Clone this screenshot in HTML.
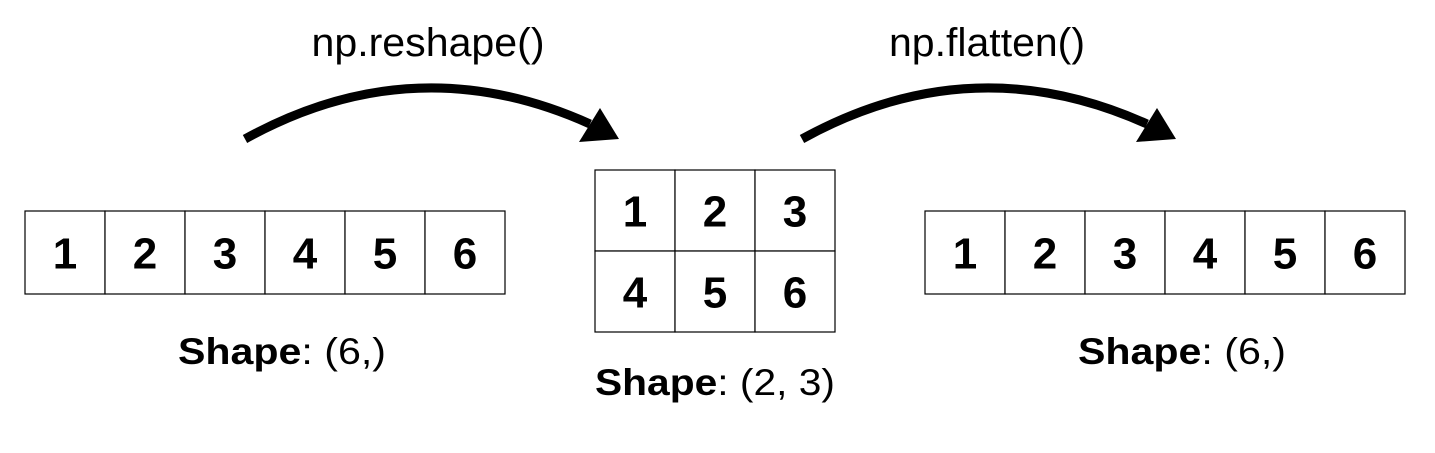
<!DOCTYPE html>
<html><head><meta charset="utf-8"><style>
body{margin:0;width:1435px;height:448px;background:#fff;overflow:hidden;font-family:"Liberation Sans",Arial,sans-serif}
svg text{font-family:"Liberation Sans",Arial,sans-serif}
</style></head><body>
<svg width="1435" height="448">
<g id="arrays"></g>
<text x="428" y="56" font-size="40" text-anchor="middle" textLength="233" lengthAdjust="spacingAndGlyphs">np.reshape()</text>
<text x="987" y="56" font-size="40" text-anchor="middle" textLength="196" lengthAdjust="spacingAndGlyphs">np.flatten()</text>
<g>
<path d="M245,139 Q415,45 590,124" fill="none" stroke="#000" stroke-width="9"/>
<polygon points="619,139 579,142 600,108" fill="#000"/>
</g>
<g>
<path d="M802,139 Q972,45 1147,124" fill="none" stroke="#000" stroke-width="9"/>
<polygon points="1176,139 1136,142 1157,108" fill="#000"/>
</g>
<text x="282" y="364" font-size="37" text-anchor="middle" textLength="208" lengthAdjust="spacingAndGlyphs"><tspan font-weight="bold">Shape</tspan>: (6,)</text>
<text x="715" y="395" font-size="37" text-anchor="middle" textLength="240" lengthAdjust="spacingAndGlyphs"><tspan font-weight="bold">Shape</tspan>: (2, 3)</text>
<text x="1182" y="364" font-size="37" text-anchor="middle" textLength="208" lengthAdjust="spacingAndGlyphs"><tspan font-weight="bold">Shape</tspan>: (6,)</text>
</svg>
<script>
const values=[1,2,3,4,5,6];
const g=document.getElementById('arrays');
const NS='http://www.w3.org/2000/svg';
function cell(x,y,w,h,v){
  const r=document.createElementNS(NS,'rect');
  r.setAttribute('x',x);r.setAttribute('y',y);r.setAttribute('width',w);r.setAttribute('height',h);
  r.setAttribute('fill','#fff');r.setAttribute('stroke','#000');r.setAttribute('stroke-width','1.2');
  
  
  g.appendChild(r);
  const t=document.createElementNS(NS,'text');
  t.setAttribute('x',x+w/2);t.setAttribute('y',y+h/2+16);t.setAttribute('font-size','44');
  t.setAttribute('font-weight','bold');t.setAttribute('text-anchor','middle');
  t.textContent=v;
  
  
  g.appendChild(t);
}
values.forEach((v,i)=>cell(25+i*80,211,80,83,v));
values.forEach((v,i)=>cell(595+(i%3)*80,170+Math.floor(i/3)*81,80,81,v));
values.forEach((v,i)=>cell(925+i*80,211,80,83,v));
</script>
</body></html>
